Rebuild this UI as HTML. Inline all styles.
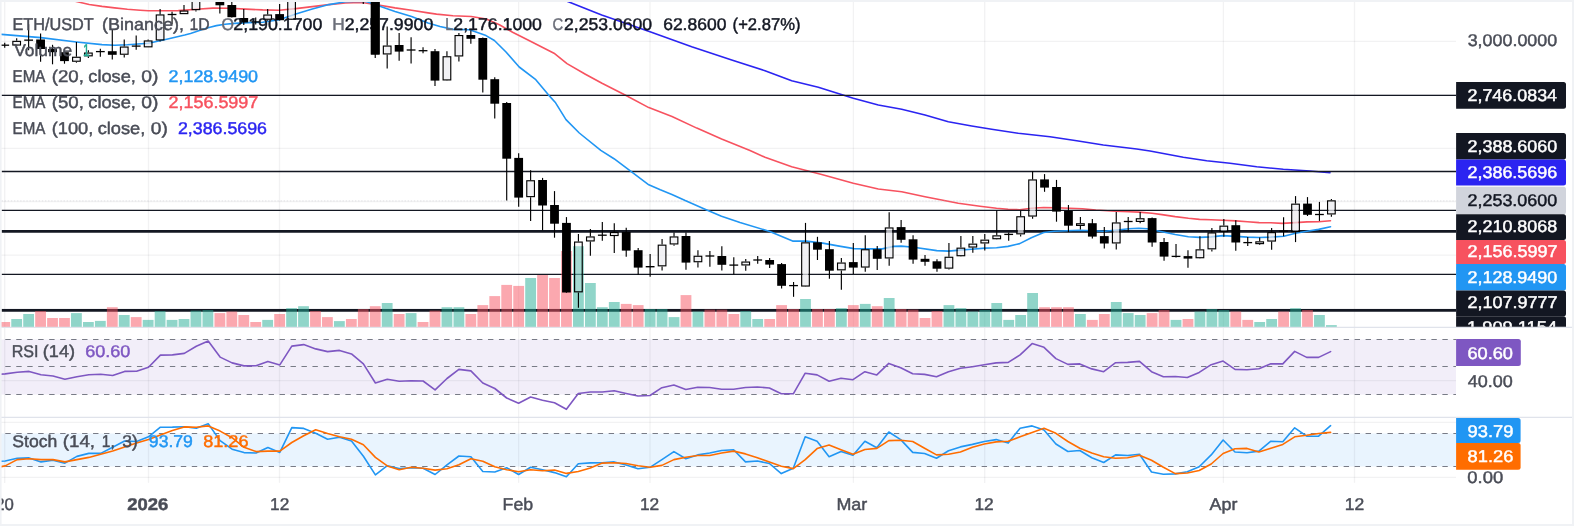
<!DOCTYPE html><html><head><meta charset="utf-8"><title>ETH/USDT</title>
<style>html,body{margin:0;padding:0;background:#fff}body{width:1574px;height:526px;overflow:hidden}svg{display:block}text{text-rendering:geometricPrecision;font-family:"Liberation Sans",sans-serif;font-size:17px;stroke-width:0.45px;stroke-linejoin:round}</style></head><body>
<svg width="1574" height="526" viewBox="0 0 1574 526" style="will-change:transform">
<rect x="0" y="0" width="1574" height="526" fill="#fff"/>
<rect x="0" y="339.5" width="1456.1" height="55" fill="#f2eef9"/>
<rect x="0" y="433.5" width="1456.1" height="33" fill="#e9f4fe"/>
<g stroke="#1e222d" stroke-opacity="0.06" stroke-width="1.3" fill="none">
<line x1="0" y1="41.4" x2="1456.1" y2="41.4"/>
<line x1="0" y1="94.8" x2="1456.1" y2="94.8"/>
<line x1="0" y1="148.3" x2="1456.1" y2="148.3"/>
<line x1="0" y1="201.5" x2="1456.1" y2="201.5"/>
<line x1="0" y1="255.2" x2="1456.1" y2="255.2"/>
<line x1="0" y1="308.6" x2="1456.1" y2="308.6"/>
<line x1="0" y1="422.3" x2="1456.1" y2="422.3"/>
<line x1="0" y1="477.4" x2="1456.1" y2="477.4"/>
</g>
<g stroke="#1e222d" stroke-opacity="0.06" stroke-width="1.3" fill="none">
<line x1="4.7" y1="0" x2="4.7" y2="482.5"/>
<line x1="148.5" y1="0" x2="148.5" y2="482.5"/>
<line x1="279.5" y1="0" x2="279.5" y2="482.5"/>
<line x1="518.6" y1="0" x2="518.6" y2="482.5"/>
<line x1="650.0" y1="0" x2="650.0" y2="482.5"/>
<line x1="853.4" y1="0" x2="853.4" y2="482.5"/>
<line x1="984.7" y1="0" x2="984.7" y2="482.5"/>
<line x1="1223.4" y1="0" x2="1223.4" y2="482.5"/>
<line x1="1354.5" y1="0" x2="1354.5" y2="482.5"/>
<line x1="0" y1="380.6" x2="1456.1" y2="380.6"/>
</g>
<g stroke="#e0e3eb" stroke-width="1.3"><line x1="0" y1="327.3" x2="1574" y2="327.3"/><line x1="0" y1="417.3" x2="1574" y2="417.3"/></g>
<polyline fill="none" stroke="#2b24f1" stroke-width="1.6" stroke-linejoin="round" stroke-linecap="round" points="564.0,0.0 568.3,1.7 601.7,15.0 650.0,31.7 691.7,46.7 731.7,60.0 765.0,70.7 791.7,80.7 818.3,87.3 853.3,98.3 878.3,105.0 901.7,109.3 925.0,115.0 948.3,121.7 971.7,126.0 991.7,129.3 1018.3,133.3 1050.0,136.7 1076.7,140.7 1103.3,145.0 1136.7,149.0 1150.0,151.0 1183.3,157.3 1206.7,160.7 1230.0,163.3 1256.7,166.7 1283.3,169.3 1310.0,171.0 1330.0,172.7"/>
<polyline fill="none" stroke="#f7525f" stroke-width="1.6" stroke-linejoin="round" stroke-linecap="round" points="68.0,0.0 75.2,1.3 89.2,4.5 102.0,6.4 114.6,7.9 127.4,9.2 140.1,10.2 148.4,10.8 165.6,10.8 178.3,10.6 196.5,9.3 213.0,8.1 229.6,8.3 246.2,9.1 262.7,9.9 279.2,10.3 295.8,8.6 312.3,6.6 328.9,4.6 345.4,3.0 362.0,2.5 378.5,5.0 395.0,7.9 411.6,10.3 428.0,12.9 436.5,14.1 453.0,15.7 471.3,16.5 486.2,19.0 499.4,24.8 512.6,32.3 527.5,39.7 554.0,53.2 567.0,63.6 585.4,74.2 602.0,83.3 625.1,95.0 648.8,107.6 672.0,116.5 696.8,128.1 721.6,138.9 750.0,150.4 765.0,157.3 791.7,166.7 821.7,174.5 853.3,183.3 878.3,189.0 901.7,191.7 925.0,196.7 958.3,203.3 980.0,206.3 996.5,208.3 1008.1,209.3 1019.7,209.7 1031.3,208.3 1043.7,207.5 1056.1,207.7 1069.3,208.3 1082.5,208.8 1095.8,210.0 1115.6,211.3 1128.9,211.8 1138.8,212.1 1152.0,213.3 1162.0,214.6 1175.2,216.6 1188.4,218.3 1199.5,219.4 1211.1,219.8 1222.7,220.3 1236.0,220.9 1247.5,221.8 1259.1,222.6 1270.7,222.7 1282.2,223.4 1295.5,222.6 1307.0,221.9 1318.6,221.8 1330.5,220.8"/>
<g stroke="#131722" fill="none">
<line x1="1.6" y1="95.4" x2="1456.1" y2="95.4" stroke-width="1.4"/>
<line x1="1.6" y1="171.5" x2="1456.1" y2="171.5" stroke-width="1.4"/>
<line x1="1.6" y1="210.4" x2="1456.1" y2="210.4" stroke-width="1.4"/>
<line x1="1.6" y1="231.4" x2="1456.1" y2="231.4" stroke-width="2.8"/>
<line x1="1.6" y1="274.4" x2="1456.1" y2="274.4" stroke-width="1.4"/>
<line x1="1.6" y1="310.3" x2="1456.1" y2="310.3" stroke-width="2.8"/>
</g>
<line x1="1.6" y1="200.8" x2="1456.1" y2="200.8" stroke="#b9bbc2" stroke-opacity="0.3" stroke-width="1.3" stroke-dasharray="1.3 1.8"/>
<polyline fill="none" stroke="#2196f3" stroke-width="1.6" stroke-linejoin="round" stroke-linecap="round" points="1.5,34.4 40.8,37.6 76.4,42.0 102.0,44.6 114.6,45.2 127.4,44.8 148.4,43.3 165.6,39.5 184.7,35.0 190.5,33.4 196.5,31.5 203.0,29.3 210.0,27.2 216.4,25.6 225.0,24.2 234.6,23.4 249.0,22.6 262.7,22.2 279.2,19.8 295.8,14.0 312.3,9.1 328.9,4.6 345.4,1.7 362.0,1.2 366.9,1.7 378.5,5.8 395.0,11.6 411.6,16.5 428.0,23.0 440.0,26.5 453.0,29.4 469.6,29.8 486.0,35.6 494.4,40.5 506.0,52.0 519.2,67.0 535.8,79.7 548.2,94.6 555.6,102.8 566.0,119.6 579.3,133.0 600.8,150.4 614.0,158.7 630.6,171.2 648.8,184.8 660.3,189.8 671.9,194.4 685.2,200.6 705.0,209.3 721.5,216.3 740.0,222.6 769.8,231.5 792.6,241.1 806.0,241.1 822.7,243.1 839.2,246.1 854.0,248.6 872.3,248.9 882.2,248.9 893.8,246.4 901.3,246.1 913.7,247.3 936.8,250.6 948.4,251.1 960.0,250.1 971.5,249.2 984.8,248.1 996.5,247.7 1008.0,246.4 1019.7,243.6 1031.3,237.8 1043.7,232.5 1054.4,231.2 1079.2,230.3 1092.5,230.8 1104.0,231.2 1117.3,230.0 1128.9,228.7 1138.8,228.2 1147.0,228.7 1162.0,231.7 1175.2,234.5 1188.4,236.7 1199.5,237.4 1211.1,236.9 1222.7,235.6 1236.0,236.4 1247.5,237.1 1259.1,237.5 1270.7,237.1 1283.9,236.3 1295.5,233.3 1307.0,231.3 1318.6,229.4 1330.5,226.7"/>
<g stroke="#787b86" stroke-width="1.2" stroke-dasharray="5.4 5.57" fill="none">
<line x1="5.3" y1="339.5" x2="1456.1" y2="339.5"/>
<line x1="5.3" y1="366.5" x2="1456.1" y2="366.5"/>
<line x1="5.3" y1="394.5" x2="1456.1" y2="394.5"/>
<line x1="5.3" y1="433.5" x2="1456.1" y2="433.5"/>
<line x1="5.3" y1="466.5" x2="1456.1" y2="466.5"/>
</g>
<rect x="-0.68" y="322.0" width="10.8" height="4.8" fill="rgba(247,82,95,0.5)"/>
<rect x="11.27" y="319.0" width="10.8" height="7.8" fill="rgba(34,171,148,0.5)"/>
<rect x="23.22" y="314.0" width="10.8" height="12.8" fill="rgba(34,171,148,0.5)"/>
<rect x="35.18" y="311.0" width="10.8" height="15.8" fill="rgba(247,82,95,0.5)"/>
<rect x="47.13" y="318.0" width="10.8" height="8.8" fill="rgba(247,82,95,0.5)"/>
<rect x="59.08" y="318.0" width="10.8" height="8.8" fill="rgba(247,82,95,0.5)"/>
<rect x="71.03" y="313.1" width="10.8" height="13.7" fill="rgba(34,171,148,0.5)"/>
<rect x="82.98" y="322.0" width="10.8" height="4.8" fill="rgba(34,171,148,0.5)"/>
<rect x="94.94" y="320.9" width="10.8" height="5.9" fill="rgba(34,171,148,0.5)"/>
<rect x="106.89" y="307.2" width="10.8" height="19.6" fill="rgba(247,82,95,0.5)"/>
<rect x="118.84" y="315.0" width="10.8" height="11.8" fill="rgba(34,171,148,0.5)"/>
<rect x="130.79" y="317.1" width="10.8" height="9.7" fill="rgba(247,82,95,0.5)"/>
<rect x="142.74" y="319.9" width="10.8" height="6.9" fill="rgba(34,171,148,0.5)"/>
<rect x="154.70" y="311.0" width="10.8" height="15.8" fill="rgba(34,171,148,0.5)"/>
<rect x="166.65" y="319.9" width="10.8" height="6.9" fill="rgba(34,171,148,0.5)"/>
<rect x="178.60" y="319.0" width="10.8" height="7.8" fill="rgba(34,171,148,0.5)"/>
<rect x="190.55" y="310.6" width="10.8" height="16.2" fill="rgba(34,171,148,0.5)"/>
<rect x="202.50" y="310.0" width="10.8" height="16.8" fill="rgba(34,171,148,0.5)"/>
<rect x="214.46" y="313.1" width="10.8" height="13.7" fill="rgba(247,82,95,0.5)"/>
<rect x="226.41" y="311.5" width="10.8" height="15.3" fill="rgba(247,82,95,0.5)"/>
<rect x="238.36" y="315.0" width="10.8" height="11.8" fill="rgba(247,82,95,0.5)"/>
<rect x="250.31" y="322.0" width="10.8" height="4.8" fill="rgba(247,82,95,0.5)"/>
<rect x="262.26" y="319.9" width="10.8" height="6.9" fill="rgba(34,171,148,0.5)"/>
<rect x="274.22" y="314.0" width="10.8" height="12.8" fill="rgba(247,82,95,0.5)"/>
<rect x="286.17" y="308.1" width="10.8" height="18.7" fill="rgba(34,171,148,0.5)"/>
<rect x="298.12" y="306.2" width="10.8" height="20.6" fill="rgba(34,171,148,0.5)"/>
<rect x="310.07" y="311.0" width="10.8" height="15.8" fill="rgba(247,82,95,0.5)"/>
<rect x="322.02" y="317.1" width="10.8" height="9.7" fill="rgba(247,82,95,0.5)"/>
<rect x="333.98" y="321.1" width="10.8" height="5.7" fill="rgba(34,171,148,0.5)"/>
<rect x="345.93" y="319.0" width="10.8" height="7.8" fill="rgba(247,82,95,0.5)"/>
<rect x="357.88" y="309.1" width="10.8" height="17.7" fill="rgba(247,82,95,0.5)"/>
<rect x="369.83" y="306.2" width="10.8" height="20.6" fill="rgba(247,82,95,0.5)"/>
<rect x="381.78" y="303.0" width="10.8" height="23.8" fill="rgba(34,171,148,0.5)"/>
<rect x="393.74" y="314.0" width="10.8" height="12.8" fill="rgba(247,82,95,0.5)"/>
<rect x="405.69" y="313.1" width="10.8" height="13.7" fill="rgba(34,171,148,0.5)"/>
<rect x="417.64" y="322.0" width="10.8" height="4.8" fill="rgba(247,82,95,0.5)"/>
<rect x="429.59" y="310.6" width="10.8" height="16.2" fill="rgba(247,82,95,0.5)"/>
<rect x="441.54" y="307.2" width="10.8" height="19.6" fill="rgba(34,171,148,0.5)"/>
<rect x="453.50" y="307.2" width="10.8" height="19.6" fill="rgba(34,171,148,0.5)"/>
<rect x="465.45" y="314.0" width="10.8" height="12.8" fill="rgba(247,82,95,0.5)"/>
<rect x="477.40" y="305.1" width="10.8" height="21.7" fill="rgba(247,82,95,0.5)"/>
<rect x="489.35" y="296.1" width="10.8" height="30.7" fill="rgba(247,82,95,0.5)"/>
<rect x="501.30" y="284.9" width="10.8" height="41.9" fill="rgba(247,82,95,0.5)"/>
<rect x="513.26" y="285.9" width="10.8" height="40.9" fill="rgba(247,82,95,0.5)"/>
<rect x="525.21" y="278.0" width="10.8" height="48.8" fill="rgba(34,171,148,0.5)"/>
<rect x="537.16" y="275.0" width="10.8" height="51.8" fill="rgba(247,82,95,0.5)"/>
<rect x="549.11" y="278.0" width="10.8" height="48.8" fill="rgba(247,82,95,0.5)"/>
<rect x="561.06" y="251.0" width="10.8" height="75.8" fill="rgba(247,82,95,0.5)"/>
<rect x="573.02" y="246.2" width="10.8" height="80.6" fill="rgba(34,171,148,0.5)"/>
<rect x="584.97" y="283.0" width="10.8" height="43.8" fill="rgba(34,171,148,0.5)"/>
<rect x="596.92" y="307.2" width="10.8" height="19.6" fill="rgba(34,171,148,0.5)"/>
<rect x="608.87" y="302.0" width="10.8" height="24.8" fill="rgba(34,171,148,0.5)"/>
<rect x="620.82" y="303.9" width="10.8" height="22.9" fill="rgba(247,82,95,0.5)"/>
<rect x="632.78" y="305.1" width="10.8" height="21.7" fill="rgba(247,82,95,0.5)"/>
<rect x="644.73" y="309.0" width="10.8" height="17.8" fill="rgba(34,171,148,0.5)"/>
<rect x="656.68" y="309.0" width="10.8" height="17.8" fill="rgba(34,171,148,0.5)"/>
<rect x="668.63" y="317.1" width="10.8" height="9.7" fill="rgba(34,171,148,0.5)"/>
<rect x="680.58" y="295.1" width="10.8" height="31.7" fill="rgba(247,82,95,0.5)"/>
<rect x="692.54" y="311.5" width="10.8" height="15.3" fill="rgba(34,171,148,0.5)"/>
<rect x="704.49" y="309.6" width="10.8" height="17.2" fill="rgba(247,82,95,0.5)"/>
<rect x="716.44" y="309.6" width="10.8" height="17.2" fill="rgba(247,82,95,0.5)"/>
<rect x="728.39" y="314.0" width="10.8" height="12.8" fill="rgba(247,82,95,0.5)"/>
<rect x="740.34" y="311.0" width="10.8" height="15.8" fill="rgba(34,171,148,0.5)"/>
<rect x="752.30" y="319.0" width="10.8" height="7.8" fill="rgba(34,171,148,0.5)"/>
<rect x="764.25" y="319.0" width="10.8" height="7.8" fill="rgba(247,82,95,0.5)"/>
<rect x="776.20" y="305.1" width="10.8" height="21.7" fill="rgba(247,82,95,0.5)"/>
<rect x="788.15" y="309.0" width="10.8" height="17.8" fill="rgba(247,82,95,0.5)"/>
<rect x="800.10" y="299.0" width="10.8" height="27.8" fill="rgba(34,171,148,0.5)"/>
<rect x="812.06" y="309.0" width="10.8" height="17.8" fill="rgba(247,82,95,0.5)"/>
<rect x="824.01" y="309.0" width="10.8" height="17.8" fill="rgba(247,82,95,0.5)"/>
<rect x="835.96" y="308.1" width="10.8" height="18.7" fill="rgba(34,171,148,0.5)"/>
<rect x="847.91" y="305.1" width="10.8" height="21.7" fill="rgba(247,82,95,0.5)"/>
<rect x="859.86" y="303.9" width="10.8" height="22.9" fill="rgba(34,171,148,0.5)"/>
<rect x="871.82" y="306.2" width="10.8" height="20.6" fill="rgba(247,82,95,0.5)"/>
<rect x="883.77" y="298.0" width="10.8" height="28.8" fill="rgba(34,171,148,0.5)"/>
<rect x="895.72" y="309.0" width="10.8" height="17.8" fill="rgba(247,82,95,0.5)"/>
<rect x="907.67" y="309.6" width="10.8" height="17.2" fill="rgba(247,82,95,0.5)"/>
<rect x="919.62" y="318.0" width="10.8" height="8.8" fill="rgba(247,82,95,0.5)"/>
<rect x="931.58" y="311.0" width="10.8" height="15.8" fill="rgba(247,82,95,0.5)"/>
<rect x="943.53" y="305.1" width="10.8" height="21.7" fill="rgba(34,171,148,0.5)"/>
<rect x="955.48" y="308.1" width="10.8" height="18.7" fill="rgba(34,171,148,0.5)"/>
<rect x="967.43" y="311.5" width="10.8" height="15.3" fill="rgba(34,171,148,0.5)"/>
<rect x="979.38" y="310.0" width="10.8" height="16.8" fill="rgba(34,171,148,0.5)"/>
<rect x="991.34" y="303.0" width="10.8" height="23.8" fill="rgba(34,171,148,0.5)"/>
<rect x="1003.29" y="319.9" width="10.8" height="6.9" fill="rgba(34,171,148,0.5)"/>
<rect x="1015.24" y="315.0" width="10.8" height="11.8" fill="rgba(34,171,148,0.5)"/>
<rect x="1027.19" y="293.0" width="10.8" height="33.8" fill="rgba(34,171,148,0.5)"/>
<rect x="1039.14" y="307.2" width="10.8" height="19.6" fill="rgba(247,82,95,0.5)"/>
<rect x="1051.10" y="307.2" width="10.8" height="19.6" fill="rgba(247,82,95,0.5)"/>
<rect x="1063.05" y="307.2" width="10.8" height="19.6" fill="rgba(247,82,95,0.5)"/>
<rect x="1075.00" y="314.0" width="10.8" height="12.8" fill="rgba(34,171,148,0.5)"/>
<rect x="1086.95" y="319.9" width="10.8" height="6.9" fill="rgba(247,82,95,0.5)"/>
<rect x="1098.90" y="314.0" width="10.8" height="12.8" fill="rgba(247,82,95,0.5)"/>
<rect x="1110.86" y="302.0" width="10.8" height="24.8" fill="rgba(34,171,148,0.5)"/>
<rect x="1122.81" y="313.1" width="10.8" height="13.7" fill="rgba(34,171,148,0.5)"/>
<rect x="1134.76" y="315.0" width="10.8" height="11.8" fill="rgba(34,171,148,0.5)"/>
<rect x="1146.71" y="313.1" width="10.8" height="13.7" fill="rgba(247,82,95,0.5)"/>
<rect x="1158.66" y="310.0" width="10.8" height="16.8" fill="rgba(247,82,95,0.5)"/>
<rect x="1170.62" y="319.9" width="10.8" height="6.9" fill="rgba(34,171,148,0.5)"/>
<rect x="1182.57" y="319.0" width="10.8" height="7.8" fill="rgba(247,82,95,0.5)"/>
<rect x="1194.52" y="311.5" width="10.8" height="15.3" fill="rgba(34,171,148,0.5)"/>
<rect x="1206.47" y="309.0" width="10.8" height="17.8" fill="rgba(34,171,148,0.5)"/>
<rect x="1218.42" y="310.0" width="10.8" height="16.8" fill="rgba(34,171,148,0.5)"/>
<rect x="1230.38" y="311.5" width="10.8" height="15.3" fill="rgba(247,82,95,0.5)"/>
<rect x="1242.33" y="319.9" width="10.8" height="6.9" fill="rgba(247,82,95,0.5)"/>
<rect x="1254.28" y="322.0" width="10.8" height="4.8" fill="rgba(34,171,148,0.5)"/>
<rect x="1266.23" y="319.0" width="10.8" height="7.8" fill="rgba(34,171,148,0.5)"/>
<rect x="1278.18" y="311.5" width="10.8" height="15.3" fill="rgba(247,82,95,0.5)"/>
<rect x="1290.14" y="308.1" width="10.8" height="18.7" fill="rgba(34,171,148,0.5)"/>
<rect x="1302.09" y="310.0" width="10.8" height="16.8" fill="rgba(247,82,95,0.5)"/>
<rect x="1314.04" y="315.0" width="10.8" height="11.8" fill="rgba(34,171,148,0.5)"/>
<rect x="1325.99" y="325.1" width="10.8" height="1.7" fill="rgba(34,171,148,0.5)"/>
<rect x="13.77" y="42.3" width="5.8" height="1.8" fill="#ebecf0" fill-opacity="0.72"/>
<rect x="73.53" y="58.2" width="5.8" height="2.1" fill="#ebecf0" fill-opacity="0.72"/>
<rect x="85.48" y="54.0" width="5.8" height="0.9" fill="#ebecf0" fill-opacity="0.72"/>
<rect x="121.34" y="48.0" width="5.8" height="5.3" fill="#ebecf0" fill-opacity="0.72"/>
<rect x="145.24" y="41.9" width="5.8" height="4.0" fill="#ebecf0" fill-opacity="0.72"/>
<rect x="157.20" y="15.9" width="5.8" height="23.1" fill="#ebecf0" fill-opacity="0.72"/>
<rect x="181.10" y="12.0" width="5.8" height="0.7" fill="#ebecf0" fill-opacity="0.72"/>
<rect x="193.05" y="-1.5" width="5.8" height="10.2" fill="#ebecf0" fill-opacity="0.72"/>
<rect x="264.76" y="16.0" width="5.8" height="2.3" fill="#ebecf0" fill-opacity="0.72"/>
<rect x="288.67" y="-6.5" width="5.8" height="24.8" fill="#ebecf0" fill-opacity="0.72"/>
<rect x="384.28" y="47.0" width="5.8" height="6.0" fill="#ebecf0" fill-opacity="0.72"/>
<rect x="444.04" y="57.7" width="5.8" height="21.3" fill="#ebecf0" fill-opacity="0.72"/>
<rect x="456.00" y="36.5" width="5.8" height="18.5" fill="#ebecf0" fill-opacity="0.72"/>
<rect x="527.71" y="181.7" width="5.8" height="14.0" fill="#ebecf0" fill-opacity="0.72"/>
<rect x="575.52" y="243.0" width="5.8" height="47.9" fill="#ebecf0" fill-opacity="0.25"/>
<rect x="587.47" y="237.9" width="5.8" height="2.1" fill="#ebecf0" fill-opacity="0.72"/>
<rect x="611.37" y="233.5" width="5.8" height="1.1" fill="#ebecf0" fill-opacity="0.72"/>
<rect x="659.18" y="246.1" width="5.8" height="18.8" fill="#ebecf0" fill-opacity="0.72"/>
<rect x="671.13" y="237.9" width="5.8" height="5.1" fill="#ebecf0" fill-opacity="0.72"/>
<rect x="695.04" y="257.2" width="5.8" height="3.6" fill="#ebecf0" fill-opacity="0.72"/>
<rect x="742.84" y="263.0" width="5.8" height="1.0" fill="#ebecf0" fill-opacity="0.72"/>
<rect x="802.60" y="243.8" width="5.8" height="41.3" fill="#ebecf0" fill-opacity="0.72"/>
<rect x="838.46" y="264.0" width="5.8" height="4.9" fill="#ebecf0" fill-opacity="0.72"/>
<rect x="862.36" y="250.7" width="5.8" height="15.4" fill="#ebecf0" fill-opacity="0.72"/>
<rect x="886.27" y="228.9" width="5.8" height="28.1" fill="#ebecf0" fill-opacity="0.72"/>
<rect x="946.03" y="258.2" width="5.8" height="9.0" fill="#ebecf0" fill-opacity="0.72"/>
<rect x="957.98" y="249.1" width="5.8" height="5.7" fill="#ebecf0" fill-opacity="0.72"/>
<rect x="969.93" y="245.1" width="5.8" height="1.0" fill="#ebecf0" fill-opacity="0.72"/>
<rect x="981.88" y="241.1" width="5.8" height="0.9" fill="#ebecf0" fill-opacity="0.72"/>
<rect x="993.84" y="236.8" width="5.8" height="1.0" fill="#ebecf0" fill-opacity="0.72"/>
<rect x="1017.74" y="217.7" width="5.8" height="15.2" fill="#ebecf0" fill-opacity="0.72"/>
<rect x="1029.69" y="180.9" width="5.8" height="34.2" fill="#ebecf0" fill-opacity="0.72"/>
<rect x="1077.50" y="224.7" width="5.8" height="0.1" fill="#ebecf0" fill-opacity="0.72"/>
<rect x="1113.36" y="223.9" width="5.8" height="18.1" fill="#ebecf0" fill-opacity="0.72"/>
<rect x="1137.26" y="219.7" width="5.8" height="0.8" fill="#ebecf0" fill-opacity="0.72"/>
<rect x="1197.02" y="250.8" width="5.8" height="6.0" fill="#ebecf0" fill-opacity="0.72"/>
<rect x="1208.97" y="233.9" width="5.8" height="14.0" fill="#ebecf0" fill-opacity="0.72"/>
<rect x="1220.92" y="227.1" width="5.8" height="3.5" fill="#ebecf0" fill-opacity="0.72"/>
<rect x="1256.78" y="242.8" width="5.8" height="0.1" fill="#ebecf0" fill-opacity="0.72"/>
<rect x="1268.73" y="233.6" width="5.8" height="6.5" fill="#ebecf0" fill-opacity="0.72"/>
<rect x="1292.64" y="205.1" width="5.8" height="25.6" fill="#ebecf0" fill-opacity="0.72"/>
<rect x="1328.49" y="201.8" width="5.8" height="11.2" fill="#ebecf0" fill-opacity="0.72"/>
<g stroke="#000" stroke-width="1.15" fill="none">
<line x1="4.72" y1="42.7" x2="4.72" y2="47.8"/>
<line x1="0.32" y1="45.2" x2="9.12" y2="45.2" stroke-width="1.3"/>
<line x1="16.67" y1="38.2" x2="16.67" y2="40.8"/>
<line x1="16.67" y1="45.6" x2="16.67" y2="46.0"/>
<rect x="12.84" y="41.37" width="7.65" height="3.65"/>
<line x1="28.62" y1="24.2" x2="28.62" y2="50.3"/>
<rect x="24.22" y="39.5" width="8.8" height="1.3" fill="#000" stroke="none"/>
<line x1="40.58" y1="33.4" x2="40.58" y2="61.8"/>
<rect x="36.18" y="39.5" width="8.8" height="9.5" fill="#000" stroke="none"/>
<line x1="52.53" y1="44.8" x2="52.53" y2="64.3"/>
<rect x="48.13" y="49.0" width="8.8" height="3.2" fill="#000" stroke="none"/>
<line x1="64.48" y1="51.5" x2="64.48" y2="63.7"/>
<rect x="60.08" y="52.2" width="8.8" height="8.9" fill="#000" stroke="none"/>
<line x1="76.43" y1="42.0" x2="76.43" y2="56.7"/>
<line x1="76.43" y1="61.8" x2="76.43" y2="62.7"/>
<rect x="72.60" y="57.27" width="7.65" height="3.95"/>
<line x1="88.38" y1="50.3" x2="88.38" y2="52.5"/>
<line x1="88.38" y1="56.4" x2="88.38" y2="58.0"/>
<rect x="84.55" y="53.07" width="7.65" height="2.75"/>
<line x1="100.34" y1="48.8" x2="100.34" y2="56.7"/>
<line x1="95.94" y1="51.6" x2="104.74" y2="51.6" stroke-width="1.3"/>
<line x1="112.29" y1="29.9" x2="112.29" y2="59.6"/>
<rect x="107.89" y="51.2" width="8.8" height="3.6" fill="#000" stroke="none"/>
<line x1="124.24" y1="39.5" x2="124.24" y2="46.5"/>
<line x1="124.24" y1="54.8" x2="124.24" y2="57.6"/>
<rect x="120.41" y="47.07" width="7.65" height="7.15"/>
<line x1="136.19" y1="35.4" x2="136.19" y2="49.7"/>
<line x1="131.79" y1="46.1" x2="140.59" y2="46.1" stroke-width="1.3"/>
<line x1="148.14" y1="39.5" x2="148.14" y2="40.4"/>
<line x1="148.14" y1="47.4" x2="148.14" y2="47.6"/>
<rect x="144.31" y="40.97" width="7.65" height="5.85"/>
<line x1="160.10" y1="9.0" x2="160.10" y2="14.4"/>
<line x1="160.10" y1="40.5" x2="160.10" y2="41.4"/>
<rect x="156.27" y="14.97" width="7.65" height="24.95"/>
<line x1="172.05" y1="11.7" x2="172.05" y2="24.6"/>
<line x1="167.65" y1="14.5" x2="176.45" y2="14.5" stroke-width="1.3"/>
<line x1="184.00" y1="5.0" x2="184.00" y2="10.5"/>
<line x1="184.00" y1="14.2" x2="184.00" y2="14.3"/>
<rect x="180.17" y="11.07" width="7.65" height="2.55"/>
<line x1="195.95" y1="-5.0" x2="195.95" y2="-3.0"/>
<line x1="195.95" y1="10.2" x2="195.95" y2="11.5"/>
<rect x="192.12" y="-2.43" width="7.65" height="12.05"/>
<line x1="207.90" y1="-20.0" x2="207.90" y2="1.8"/>
<rect x="203.50" y="-15.0" width="8.8" height="10.0" fill="#000" stroke="none"/>
<line x1="219.86" y1="-5.0" x2="219.86" y2="13.5"/>
<rect x="215.46" y="-3.0" width="8.8" height="8.3" fill="#000" stroke="none"/>
<line x1="231.81" y1="1.0" x2="231.81" y2="17.4"/>
<rect x="227.41" y="5.0" width="8.8" height="12.2" fill="#000" stroke="none"/>
<line x1="243.76" y1="9.1" x2="243.76" y2="25.0"/>
<rect x="239.36" y="18.0" width="8.8" height="4.5" fill="#000" stroke="none"/>
<line x1="255.71" y1="17.5" x2="255.71" y2="24.5"/>
<line x1="251.31" y1="21.9" x2="260.11" y2="21.9" stroke-width="1.3"/>
<line x1="267.66" y1="9.1" x2="267.66" y2="14.5"/>
<line x1="267.66" y1="19.8" x2="267.66" y2="20.7"/>
<rect x="263.83" y="15.07" width="7.65" height="4.15"/>
<line x1="279.62" y1="4.0" x2="279.62" y2="20.4"/>
<rect x="275.22" y="14.1" width="8.8" height="6.1" fill="#000" stroke="none"/>
<line x1="291.57" y1="-10.0" x2="291.57" y2="-8.0"/>
<line x1="291.57" y1="19.8" x2="291.57" y2="20.0"/>
<rect x="287.74" y="-7.43" width="7.65" height="26.65"/>
<line x1="363.28" y1="-20.0" x2="363.28" y2="4.1"/>
<rect x="358.88" y="-15.0" width="8.8" height="10.0" fill="#000" stroke="none"/>
<line x1="375.23" y1="-10.0" x2="375.23" y2="57.9"/>
<rect x="370.83" y="-8.0" width="8.8" height="62.5" fill="#000" stroke="none"/>
<line x1="387.18" y1="26.4" x2="387.18" y2="45.5"/>
<line x1="387.18" y1="54.5" x2="387.18" y2="68.6"/>
<rect x="383.35" y="46.07" width="7.65" height="7.85"/>
<line x1="399.14" y1="33.0" x2="399.14" y2="60.8"/>
<rect x="394.74" y="45.0" width="8.8" height="6.6" fill="#000" stroke="none"/>
<line x1="411.09" y1="37.2" x2="411.09" y2="63.6"/>
<line x1="406.69" y1="50.0" x2="415.49" y2="50.0" stroke-width="1.3"/>
<line x1="423.04" y1="47.3" x2="423.04" y2="53.2"/>
<line x1="418.64" y1="50.7" x2="427.44" y2="50.7" stroke-width="1.3"/>
<line x1="434.99" y1="49.1" x2="434.99" y2="85.9"/>
<rect x="430.59" y="51.2" width="8.8" height="29.4" fill="#000" stroke="none"/>
<line x1="446.94" y1="51.2" x2="446.94" y2="56.2"/>
<line x1="446.94" y1="80.5" x2="446.94" y2="80.7"/>
<rect x="443.11" y="56.77" width="7.65" height="23.15"/>
<line x1="458.90" y1="33.0" x2="458.90" y2="35.0"/>
<line x1="458.90" y1="56.5" x2="458.90" y2="61.5"/>
<rect x="455.07" y="35.57" width="7.65" height="20.35"/>
<line x1="470.85" y1="30.6" x2="470.85" y2="43.7"/>
<rect x="466.45" y="35.0" width="8.8" height="3.8" fill="#000" stroke="none"/>
<line x1="482.80" y1="37.5" x2="482.80" y2="92.6"/>
<rect x="478.40" y="38.0" width="8.8" height="41.7" fill="#000" stroke="none"/>
<line x1="494.75" y1="77.2" x2="494.75" y2="118.5"/>
<rect x="490.35" y="79.2" width="8.8" height="24.5" fill="#000" stroke="none"/>
<line x1="506.70" y1="102.0" x2="506.70" y2="200.5"/>
<rect x="502.30" y="103.0" width="8.8" height="55.7" fill="#000" stroke="none"/>
<line x1="518.66" y1="153.2" x2="518.66" y2="206.7"/>
<rect x="514.26" y="157.9" width="8.8" height="39.7" fill="#000" stroke="none"/>
<line x1="530.61" y1="170.3" x2="530.61" y2="180.2"/>
<line x1="530.61" y1="197.2" x2="530.61" y2="220.9"/>
<rect x="526.78" y="180.77" width="7.65" height="15.85"/>
<line x1="542.56" y1="177.9" x2="542.56" y2="230.3"/>
<rect x="538.16" y="180.0" width="8.8" height="25.5" fill="#000" stroke="none"/>
<line x1="554.51" y1="191.1" x2="554.51" y2="237.7"/>
<rect x="550.11" y="205.0" width="8.8" height="18.7" fill="#000" stroke="none"/>
<line x1="566.46" y1="217.1" x2="566.46" y2="292.7"/>
<rect x="562.06" y="222.9" width="8.8" height="69.6" fill="#000" stroke="none"/>
<line x1="578.42" y1="234.1" x2="578.42" y2="241.5"/>
<line x1="578.42" y1="292.4" x2="578.42" y2="307.8"/>
<rect x="574.59" y="242.07" width="7.65" height="49.75"/>
<line x1="590.37" y1="229.1" x2="590.37" y2="236.4"/>
<line x1="590.37" y1="241.5" x2="590.37" y2="255.7"/>
<rect x="586.54" y="236.97" width="7.65" height="3.95"/>
<line x1="602.32" y1="222.0" x2="602.32" y2="240.8"/>
<line x1="597.92" y1="235.2" x2="606.72" y2="235.2" stroke-width="1.3"/>
<line x1="614.27" y1="223.2" x2="614.27" y2="232.0"/>
<line x1="614.27" y1="236.1" x2="614.27" y2="252.9"/>
<rect x="610.44" y="232.57" width="7.65" height="2.95"/>
<line x1="626.22" y1="227.8" x2="626.22" y2="256.8"/>
<rect x="621.82" y="232.0" width="8.8" height="18.6" fill="#000" stroke="none"/>
<line x1="638.18" y1="248.1" x2="638.18" y2="274.7"/>
<rect x="633.78" y="250.2" width="8.8" height="17.4" fill="#000" stroke="none"/>
<line x1="650.13" y1="254.0" x2="650.13" y2="276.7"/>
<rect x="645.73" y="266.0" width="8.8" height="1.4" fill="#000" stroke="none"/>
<line x1="662.08" y1="239.1" x2="662.08" y2="244.6"/>
<line x1="662.08" y1="266.4" x2="662.08" y2="270.5"/>
<rect x="658.25" y="245.17" width="7.65" height="20.65"/>
<line x1="674.03" y1="232.4" x2="674.03" y2="236.4"/>
<line x1="674.03" y1="244.5" x2="674.03" y2="245.7"/>
<rect x="670.20" y="236.97" width="7.65" height="6.95"/>
<line x1="685.98" y1="232.4" x2="685.98" y2="269.7"/>
<rect x="681.58" y="236.0" width="8.8" height="26.6" fill="#000" stroke="none"/>
<line x1="697.94" y1="250.2" x2="697.94" y2="255.7"/>
<line x1="697.94" y1="262.3" x2="697.94" y2="267.6"/>
<rect x="694.11" y="256.27" width="7.65" height="5.45"/>
<line x1="709.89" y1="251.0" x2="709.89" y2="266.7"/>
<line x1="705.49" y1="256.0" x2="714.29" y2="256.0" stroke-width="1.3"/>
<line x1="721.84" y1="246.2" x2="721.84" y2="270.5"/>
<rect x="717.44" y="256.0" width="8.8" height="8.8" fill="#000" stroke="none"/>
<line x1="733.79" y1="257.3" x2="733.79" y2="274.4"/>
<line x1="729.39" y1="265.1" x2="738.19" y2="265.1" stroke-width="1.3"/>
<line x1="745.74" y1="258.9" x2="745.74" y2="261.5"/>
<line x1="745.74" y1="265.5" x2="745.74" y2="270.7"/>
<rect x="741.91" y="262.07" width="7.65" height="2.85"/>
<line x1="757.70" y1="256.0" x2="757.70" y2="263.8"/>
<line x1="753.30" y1="260.0" x2="762.10" y2="260.0" stroke-width="1.3"/>
<line x1="769.65" y1="258.0" x2="769.65" y2="267.9"/>
<rect x="765.25" y="260.0" width="8.8" height="4.6" fill="#000" stroke="none"/>
<line x1="781.60" y1="263.0" x2="781.60" y2="288.6"/>
<rect x="777.20" y="264.1" width="8.8" height="21.7" fill="#000" stroke="none"/>
<line x1="793.55" y1="282.0" x2="793.55" y2="296.8"/>
<line x1="789.15" y1="285.6" x2="797.95" y2="285.6" stroke-width="1.3"/>
<line x1="805.50" y1="222.9" x2="805.50" y2="242.3"/>
<line x1="805.50" y1="286.6" x2="805.50" y2="286.8"/>
<rect x="801.67" y="242.87" width="7.65" height="43.15"/>
<line x1="817.46" y1="236.8" x2="817.46" y2="260.0"/>
<rect x="813.06" y="242.3" width="8.8" height="7.4" fill="#000" stroke="none"/>
<line x1="829.41" y1="241.0" x2="829.41" y2="278.7"/>
<rect x="825.01" y="249.2" width="8.8" height="21.5" fill="#000" stroke="none"/>
<line x1="841.36" y1="258.0" x2="841.36" y2="262.5"/>
<line x1="841.36" y1="270.4" x2="841.36" y2="289.8"/>
<rect x="837.53" y="263.07" width="7.65" height="6.75"/>
<line x1="853.31" y1="243.1" x2="853.31" y2="274.0"/>
<rect x="848.91" y="262.1" width="8.8" height="5.5" fill="#000" stroke="none"/>
<line x1="865.26" y1="235.2" x2="865.26" y2="249.2"/>
<line x1="865.26" y1="267.6" x2="865.26" y2="271.7"/>
<rect x="861.43" y="249.77" width="7.65" height="17.25"/>
<line x1="877.22" y1="245.9" x2="877.22" y2="269.9"/>
<rect x="872.82" y="249.2" width="8.8" height="9.6" fill="#000" stroke="none"/>
<line x1="889.17" y1="212.3" x2="889.17" y2="227.4"/>
<line x1="889.17" y1="258.5" x2="889.17" y2="265.8"/>
<rect x="885.34" y="227.97" width="7.65" height="29.95"/>
<line x1="901.12" y1="220.0" x2="901.12" y2="242.8"/>
<rect x="896.72" y="227.1" width="8.8" height="12.7" fill="#000" stroke="none"/>
<line x1="913.07" y1="235.2" x2="913.07" y2="263.8"/>
<rect x="908.67" y="239.3" width="8.8" height="20.3" fill="#000" stroke="none"/>
<line x1="925.02" y1="255.0" x2="925.02" y2="265.8"/>
<rect x="920.62" y="258.8" width="8.8" height="3.0" fill="#000" stroke="none"/>
<line x1="936.98" y1="259.3" x2="936.98" y2="271.7"/>
<rect x="932.58" y="261.3" width="8.8" height="7.4" fill="#000" stroke="none"/>
<line x1="948.93" y1="243.1" x2="948.93" y2="256.7"/>
<line x1="948.93" y1="268.7" x2="948.93" y2="269.6"/>
<rect x="945.10" y="257.27" width="7.65" height="10.85"/>
<line x1="960.88" y1="236.0" x2="960.88" y2="247.6"/>
<line x1="960.88" y1="256.3" x2="960.88" y2="256.5"/>
<rect x="957.05" y="248.17" width="7.65" height="7.55"/>
<line x1="972.83" y1="236.0" x2="972.83" y2="243.6"/>
<line x1="972.83" y1="247.6" x2="972.83" y2="252.7"/>
<rect x="969.00" y="244.17" width="7.65" height="2.85"/>
<line x1="984.78" y1="234.0" x2="984.78" y2="239.6"/>
<line x1="984.78" y1="243.5" x2="984.78" y2="250.5"/>
<rect x="980.95" y="240.17" width="7.65" height="2.75"/>
<line x1="996.74" y1="210.3" x2="996.74" y2="235.3"/>
<line x1="996.74" y1="239.3" x2="996.74" y2="239.5"/>
<rect x="992.91" y="235.87" width="7.65" height="2.85"/>
<line x1="1008.69" y1="232.4" x2="1008.69" y2="240.7"/>
<line x1="1004.29" y1="234.4" x2="1013.09" y2="234.4" stroke-width="1.3"/>
<line x1="1020.64" y1="210.5" x2="1020.64" y2="216.2"/>
<line x1="1020.64" y1="234.4" x2="1020.64" y2="236.6"/>
<rect x="1016.81" y="216.77" width="7.65" height="17.05"/>
<line x1="1032.59" y1="171.3" x2="1032.59" y2="179.4"/>
<line x1="1032.59" y1="216.6" x2="1032.59" y2="218.7"/>
<rect x="1028.76" y="179.97" width="7.65" height="36.05"/>
<line x1="1044.54" y1="174.1" x2="1044.54" y2="191.8"/>
<rect x="1040.14" y="179.4" width="8.8" height="8.2" fill="#000" stroke="none"/>
<line x1="1056.50" y1="179.9" x2="1056.50" y2="221.7"/>
<rect x="1052.10" y="187.0" width="8.8" height="24.6" fill="#000" stroke="none"/>
<line x1="1068.45" y1="205.0" x2="1068.45" y2="232.0"/>
<rect x="1064.05" y="210.8" width="8.8" height="14.9" fill="#000" stroke="none"/>
<line x1="1080.40" y1="217.1" x2="1080.40" y2="223.2"/>
<line x1="1080.40" y1="226.0" x2="1080.40" y2="229.5"/>
<rect x="1076.57" y="223.77" width="7.65" height="1.65"/>
<line x1="1092.35" y1="219.0" x2="1092.35" y2="238.6"/>
<rect x="1087.95" y="223.2" width="8.8" height="13.4" fill="#000" stroke="none"/>
<line x1="1104.30" y1="227.0" x2="1104.30" y2="248.5"/>
<rect x="1099.90" y="236.1" width="8.8" height="7.4" fill="#000" stroke="none"/>
<line x1="1116.26" y1="212.1" x2="1116.26" y2="222.4"/>
<line x1="1116.26" y1="243.5" x2="1116.26" y2="249.6"/>
<rect x="1112.43" y="222.97" width="7.65" height="19.95"/>
<line x1="1128.21" y1="217.1" x2="1128.21" y2="232.0"/>
<line x1="1123.81" y1="221.5" x2="1132.61" y2="221.5" stroke-width="1.3"/>
<line x1="1140.16" y1="212.1" x2="1140.16" y2="218.2"/>
<line x1="1140.16" y1="222.0" x2="1140.16" y2="223.2"/>
<rect x="1136.33" y="218.77" width="7.65" height="2.65"/>
<line x1="1152.11" y1="217.5" x2="1152.11" y2="246.8"/>
<rect x="1147.71" y="218.1" width="8.8" height="24.4" fill="#000" stroke="none"/>
<line x1="1164.06" y1="238.0" x2="1164.06" y2="260.7"/>
<rect x="1159.66" y="242.0" width="8.8" height="14.6" fill="#000" stroke="none"/>
<line x1="1176.02" y1="244.0" x2="1176.02" y2="257.4"/>
<line x1="1171.62" y1="256.4" x2="1180.42" y2="256.4" stroke-width="1.3"/>
<line x1="1187.97" y1="250.3" x2="1187.97" y2="267.7"/>
<rect x="1183.57" y="256.1" width="8.8" height="2.5" fill="#000" stroke="none"/>
<line x1="1199.92" y1="236.2" x2="1199.92" y2="249.3"/>
<line x1="1199.92" y1="258.3" x2="1199.92" y2="258.5"/>
<rect x="1196.09" y="249.87" width="7.65" height="7.85"/>
<line x1="1211.87" y1="227.9" x2="1211.87" y2="232.4"/>
<line x1="1211.87" y1="249.4" x2="1211.87" y2="251.5"/>
<rect x="1208.04" y="232.97" width="7.65" height="15.85"/>
<line x1="1223.82" y1="219.0" x2="1223.82" y2="225.6"/>
<line x1="1223.82" y1="232.1" x2="1223.82" y2="236.7"/>
<rect x="1219.99" y="226.17" width="7.65" height="5.35"/>
<line x1="1235.78" y1="220.3" x2="1235.78" y2="250.8"/>
<rect x="1231.38" y="225.2" width="8.8" height="17.3" fill="#000" stroke="none"/>
<line x1="1247.73" y1="237.1" x2="1247.73" y2="245.9"/>
<line x1="1243.33" y1="242.6" x2="1252.13" y2="242.6" stroke-width="1.3"/>
<line x1="1259.68" y1="237.4" x2="1259.68" y2="241.3"/>
<line x1="1259.68" y1="244.2" x2="1259.68" y2="245.0"/>
<rect x="1255.85" y="241.87" width="7.65" height="1.75"/>
<line x1="1271.63" y1="228.0" x2="1271.63" y2="232.1"/>
<line x1="1271.63" y1="241.6" x2="1271.63" y2="249.8"/>
<rect x="1267.80" y="232.67" width="7.65" height="8.35"/>
<line x1="1283.58" y1="217.3" x2="1283.58" y2="236.3"/>
<line x1="1279.18" y1="231.2" x2="1287.98" y2="231.2" stroke-width="1.3"/>
<line x1="1295.54" y1="196.1" x2="1295.54" y2="203.6"/>
<line x1="1295.54" y1="232.2" x2="1295.54" y2="242.1"/>
<rect x="1291.71" y="204.17" width="7.65" height="27.45"/>
<line x1="1307.49" y1="197.1" x2="1307.49" y2="216.0"/>
<rect x="1303.09" y="203.6" width="8.8" height="11.2" fill="#000" stroke="none"/>
<line x1="1319.44" y1="201.9" x2="1319.44" y2="220.9"/>
<line x1="1315.04" y1="214.5" x2="1323.84" y2="214.5" stroke-width="1.3"/>
<line x1="1331.39" y1="199.1" x2="1331.39" y2="200.3"/>
<line x1="1331.39" y1="214.5" x2="1331.39" y2="216.8"/>
<rect x="1327.56" y="200.87" width="7.65" height="13.05"/>
</g>
<polyline fill="none" stroke="#7e57c2" stroke-width="1.6" stroke-linejoin="round" stroke-linecap="round" points="-6.7,374.8 5.2,373.9 17.2,372.2 29.1,371.4 41.0,374.7 53.0,376.0 64.9,379.2 76.9,376.7 88.8,374.7 100.7,374.2 112.7,375.5 124.6,371.4 136.6,371.2 148.5,367.2 160.4,355.1 172.4,354.9 184.3,353.4 196.3,346.3 208.2,341.1 220.1,357.1 232.1,362.9 244.0,365.9 256.0,365.7 267.9,361.4 279.8,364.9 291.8,346.1 303.7,344.6 315.7,348.9 327.6,351.6 339.5,350.4 351.5,353.9 363.4,363.9 375.4,383.0 387.3,379.2 399.2,381.2 411.2,380.7 423.1,381.0 435.1,389.8 447.0,378.5 458.9,369.4 470.9,370.9 482.8,383.0 494.8,388.5 506.7,398.0 518.6,403.3 530.6,397.0 542.5,400.3 554.5,402.8 566.4,409.3 578.3,393.5 590.3,392.0 602.2,392.0 614.2,390.8 626.1,393.5 638.0,396.0 650.0,395.5 661.9,387.7 673.9,385.0 685.8,389.5 697.7,387.2 709.7,387.5 721.6,389.3 733.6,389.3 745.5,387.5 757.4,387.0 769.4,388.0 781.3,393.8 793.3,393.8 805.2,373.2 817.1,374.9 829.1,381.2 841.0,378.2 853.0,379.7 864.9,371.7 876.8,374.9 888.8,363.4 900.7,367.7 912.7,373.7 924.6,374.4 936.5,376.7 948.5,371.7 960.4,368.2 972.4,366.7 984.3,364.7 996.2,362.9 1008.2,362.4 1020.1,354.9 1032.1,343.6 1044.0,347.3 1055.9,358.6 1067.9,364.4 1079.8,363.9 1091.8,368.9 1103.7,371.7 1115.6,362.7 1127.6,362.4 1139.5,361.4 1151.5,371.7 1163.4,376.7 1175.3,376.5 1187.3,377.5 1199.2,372.4 1211.2,364.7 1223.1,361.1 1235.0,369.4 1247.0,369.7 1258.9,368.7 1270.9,363.7 1282.8,363.9 1294.7,351.4 1306.7,357.4 1318.6,357.4 1330.6,351.6"/>
<polyline fill="none" stroke="#2196f3" stroke-width="1.6" stroke-linejoin="round" stroke-linecap="round" points="-6.7,461.6 5.2,461.0 17.2,458.3 29.1,457.9 41.0,461.9 53.0,460.2 64.9,463.1 76.9,456.4 88.8,453.4 100.7,453.4 112.7,447.3 124.6,441.0 136.6,441.5 148.5,436.8 160.4,427.2 172.4,427.1 184.3,426.7 196.3,428.2 208.2,423.8 220.1,440.6 232.1,449.2 244.0,452.6 256.0,453.0 267.9,447.6 279.8,452.4 291.8,427.6 303.7,428.4 315.7,433.3 327.6,439.3 339.5,437.2 351.5,441.0 363.4,456.2 375.4,474.9 387.3,465.7 399.2,468.6 411.2,467.7 423.1,468.2 435.1,474.5 447.0,464.8 458.9,456.0 470.9,456.8 482.8,471.5 494.8,472.0 506.7,467.7 518.6,474.5 530.6,467.3 542.5,469.7 554.5,472.6 566.4,476.8 578.3,463.8 590.3,462.9 602.2,462.7 614.2,461.9 626.1,465.0 638.0,468.8 650.0,467.3 661.9,459.6 673.9,451.6 685.8,458.7 697.7,454.9 709.7,453.0 721.6,450.5 733.6,449.7 745.5,461.9 757.4,461.0 769.4,463.5 781.3,473.6 793.3,468.2 805.2,436.8 817.1,441.2 829.1,456.8 841.0,451.5 853.0,455.3 864.9,441.2 876.8,447.8 888.8,432.0 900.7,439.6 912.7,452.4 924.6,453.5 936.5,458.3 948.5,450.7 960.4,446.9 972.4,444.4 984.3,441.5 996.2,439.6 1008.2,443.1 1020.1,428.2 1032.1,425.9 1044.0,430.1 1055.9,444.0 1067.9,451.5 1079.8,450.5 1091.8,457.7 1103.7,462.5 1115.6,454.9 1127.6,455.5 1139.5,454.3 1151.5,472.0 1163.4,474.3 1175.3,473.9 1187.3,471.7 1199.2,466.7 1211.2,454.9 1223.1,440.0 1235.0,452.0 1247.0,452.8 1258.9,451.1 1270.9,441.2 1282.8,441.7 1294.7,427.8 1306.7,436.2 1318.6,436.2 1330.6,425.7"/>
<polyline fill="none" stroke="#ff6d00" stroke-width="1.6" stroke-linejoin="round" stroke-linecap="round" points="-6.7,468.2 5.2,465.9 17.2,459.6 29.1,458.7 41.0,459.6 53.0,459.6 64.9,461.9 76.9,459.6 88.8,457.4 100.7,454.3 112.7,451.1 124.6,446.9 136.6,443.1 148.5,439.6 160.4,434.9 172.4,430.5 184.3,426.9 196.3,427.2 208.2,425.9 220.1,431.1 232.1,437.7 244.0,447.3 256.0,451.6 267.9,451.1 279.8,451.1 291.8,442.5 303.7,435.8 315.7,429.7 327.6,433.5 339.5,436.8 351.5,439.3 363.4,444.8 375.4,457.4 387.3,465.9 399.2,469.7 411.2,467.3 423.1,468.2 435.1,470.1 447.0,468.8 458.9,464.8 470.9,458.7 482.8,461.2 494.8,466.7 506.7,469.7 518.6,471.7 530.6,469.7 542.5,470.7 554.5,470.1 566.4,473.4 578.3,471.5 590.3,468.0 602.2,463.1 614.2,462.7 626.1,463.5 638.0,465.7 650.0,467.3 661.9,465.4 673.9,459.6 685.8,457.2 697.7,455.5 709.7,455.5 721.6,453.0 733.6,451.1 745.5,453.9 757.4,457.7 769.4,462.1 781.3,466.3 793.3,468.6 805.2,459.6 817.1,448.6 829.1,445.0 841.0,449.7 853.0,454.3 864.9,449.5 876.8,448.4 888.8,440.6 900.7,440.2 912.7,441.5 924.6,448.2 936.5,454.9 948.5,454.3 960.4,452.0 972.4,447.3 984.3,444.0 996.2,441.9 1008.2,441.2 1020.1,436.8 1032.1,432.4 1044.0,428.2 1055.9,433.3 1067.9,441.5 1079.8,448.2 1091.8,453.0 1103.7,456.8 1115.6,458.3 1127.6,457.7 1139.5,455.3 1151.5,460.3 1163.4,467.3 1175.3,473.6 1187.3,473.0 1199.2,470.5 1211.2,464.0 1223.1,453.5 1235.0,448.8 1247.0,448.4 1258.9,452.0 1270.9,448.2 1282.8,444.4 1294.7,436.8 1306.7,435.3 1318.6,433.5 1330.6,432.4"/>
<g>
<text x="12.46" y="29.8" fill="#4a4d57" stroke="#4a4d57" textLength="81.31" lengthAdjust="spacingAndGlyphs">ETH/USDT</text>
<text x="102.14" y="29.8" fill="#4a4d57" stroke="#4a4d57" textLength="81.87" lengthAdjust="spacingAndGlyphs">(Binance),</text>
<text x="189.59" y="29.8" fill="#4a4d57" stroke="#4a4d57" textLength="20.13" lengthAdjust="spacingAndGlyphs">1D</text>
<text x="221.45" y="29.8" fill="#6a6d78" stroke="#6a6d78" textLength="12.43" lengthAdjust="spacingAndGlyphs">O</text>
<text x="233.36" y="29.8" fill="#131722" stroke="#131722" textLength="89.02" lengthAdjust="spacingAndGlyphs">2,190.1700</text>
<text x="332.37" y="29.8" fill="#6a6d78" stroke="#6a6d78" textLength="12.53" lengthAdjust="spacingAndGlyphs">H</text>
<text x="344.67" y="29.8" fill="#131722" stroke="#131722" textLength="88.61" lengthAdjust="spacingAndGlyphs">2,257.9900</text>
<text x="445.32" y="29.8" fill="#6a6d78" stroke="#6a6d78" textLength="7.84" lengthAdjust="spacingAndGlyphs">L</text>
<text x="453.37" y="29.8" fill="#131722" stroke="#131722" textLength="88.61" lengthAdjust="spacingAndGlyphs">2,176.1000</text>
<text x="552.60" y="29.8" fill="#6a6d78" stroke="#6a6d78" textLength="10.70" lengthAdjust="spacingAndGlyphs">C</text>
<text x="563.97" y="29.8" fill="#131722" stroke="#131722" textLength="88.11" lengthAdjust="spacingAndGlyphs">2,253.0600</text>
<text x="663.18" y="29.8" fill="#131722" stroke="#131722" textLength="63.20" lengthAdjust="spacingAndGlyphs">62.8600</text>
<text x="732.62" y="29.8" fill="#131722" stroke="#131722" textLength="67.81" lengthAdjust="spacingAndGlyphs">(+2.87%)</text>
<text x="14.20" y="56.2" fill="#4a4d57" stroke="#4a4d57" textLength="57.87" lengthAdjust="spacingAndGlyphs">Volume</text>
<text x="82.97" y="56.2" fill="#22ab94" stroke="#22ab94" textLength="6.56" lengthAdjust="spacingAndGlyphs">1</text>
<text x="12.54" y="81.7" fill="#4a4d57" stroke="#4a4d57" textLength="32.80" lengthAdjust="spacingAndGlyphs">EMA</text>
<text x="51.70" y="81.7" fill="#4a4d57" stroke="#4a4d57" textLength="32.17" lengthAdjust="spacingAndGlyphs">(20,</text>
<text x="88.25" y="81.7" fill="#4a4d57" stroke="#4a4d57" textLength="47.69" lengthAdjust="spacingAndGlyphs">close,</text>
<text x="141.32" y="81.7" fill="#4a4d57" stroke="#4a4d57" textLength="17.17" lengthAdjust="spacingAndGlyphs">0)</text>
<text x="168.56" y="81.7" fill="#2196f3" stroke="#2196f3" textLength="89.53" lengthAdjust="spacingAndGlyphs">2,128.9490</text>
<text x="12.54" y="107.8" fill="#4a4d57" stroke="#4a4d57" textLength="32.80" lengthAdjust="spacingAndGlyphs">EMA</text>
<text x="51.70" y="107.8" fill="#4a4d57" stroke="#4a4d57" textLength="32.17" lengthAdjust="spacingAndGlyphs">(50,</text>
<text x="88.25" y="107.8" fill="#4a4d57" stroke="#4a4d57" textLength="47.69" lengthAdjust="spacingAndGlyphs">close,</text>
<text x="141.32" y="107.8" fill="#4a4d57" stroke="#4a4d57" textLength="17.17" lengthAdjust="spacingAndGlyphs">0)</text>
<text x="168.56" y="107.8" fill="#f7525f" stroke="#f7525f" textLength="89.75" lengthAdjust="spacingAndGlyphs">2,156.5997</text>
<text x="12.54" y="133.6" fill="#4a4d57" stroke="#4a4d57" textLength="32.80" lengthAdjust="spacingAndGlyphs">EMA</text>
<text x="51.73" y="133.6" fill="#4a4d57" stroke="#4a4d57" textLength="41.50" lengthAdjust="spacingAndGlyphs">(100,</text>
<text x="97.65" y="133.6" fill="#4a4d57" stroke="#4a4d57" textLength="47.69" lengthAdjust="spacingAndGlyphs">close,</text>
<text x="150.72" y="133.6" fill="#4a4d57" stroke="#4a4d57" textLength="17.06" lengthAdjust="spacingAndGlyphs">0)</text>
<text x="177.96" y="133.6" fill="#2b24f1" stroke="#2b24f1" textLength="89.02" lengthAdjust="spacingAndGlyphs">2,386.5696</text>
<text x="11.77" y="356.6" fill="#4a4d57" stroke="#4a4d57" textLength="26.77" lengthAdjust="spacingAndGlyphs">RSI</text>
<text x="42.84" y="356.6" fill="#4a4d57" stroke="#4a4d57" textLength="32.19" lengthAdjust="spacingAndGlyphs">(14)</text>
<text x="85.15" y="356.6" fill="#7e57c2" stroke="#7e57c2" textLength="45.25" lengthAdjust="spacingAndGlyphs">60.60</text>
<text x="12.28" y="446.7" fill="#4a4d57" stroke="#4a4d57" textLength="45.02" lengthAdjust="spacingAndGlyphs">Stoch</text>
<text x="62.69" y="446.7" fill="#4a4d57" stroke="#4a4d57" textLength="32.39" lengthAdjust="spacingAndGlyphs">(14,</text>
<text x="101.80" y="446.7" fill="#4a4d57" stroke="#4a4d57" textLength="13.00" lengthAdjust="spacingAndGlyphs">1,</text>
<text x="122.28" y="446.7" fill="#4a4d57" stroke="#4a4d57" textLength="15.50" lengthAdjust="spacingAndGlyphs">3)</text>
<text x="148.88" y="446.7" fill="#2196f3" stroke="#2196f3" textLength="44.00" lengthAdjust="spacingAndGlyphs">93.79</text>
<text x="203.15" y="446.7" fill="#ff6d00" stroke="#ff6d00" textLength="45.34" lengthAdjust="spacingAndGlyphs">81.26</text>
</g>
<rect x="370.83" y="0" width="8.8" height="54.5" fill="#000"/>
<rect x="1456.1" y="0" width="117.9" height="526" fill="#fff"/>
<g stroke="#e0e3eb" stroke-width="1.3"><line x1="1456.1" y1="327.3" x2="1574" y2="327.3"/><line x1="1456.1" y1="417.3" x2="1574" y2="417.3"/></g>
<rect x="0" y="483" width="1574" height="43" fill="#fff"/>
<g stroke="#1e222d" stroke-opacity="0.06" stroke-width="1.3">
<line x1="4.7" y1="483" x2="4.7" y2="482.6"/>
<line x1="148.5" y1="483" x2="148.5" y2="482.6"/>
<line x1="279.5" y1="483" x2="279.5" y2="482.6"/>
<line x1="518.6" y1="483" x2="518.6" y2="482.6"/>
<line x1="650.0" y1="483" x2="650.0" y2="482.6"/>
<line x1="853.4" y1="483" x2="853.4" y2="482.6"/>
<line x1="984.7" y1="483" x2="984.7" y2="482.6"/>
<line x1="1223.4" y1="483" x2="1223.4" y2="482.6"/>
<line x1="1354.5" y1="483" x2="1354.5" y2="482.6"/>
</g>
<g style="filter:opacity(1)">
<text x="1467.67" y="45.9" fill="#4a4d57" stroke="#4a4d57" textLength="89.52" lengthAdjust="spacingAndGlyphs">3,000.0000</text>
<path d="M1456.1 81.9 H1563.5 a2.5 2.5 0 0 1 2.5 2.5 V106.3 a2.5 2.5 0 0 1 -2.5 2.5 H1456.1 Z" fill="#131722"/>
<text x="1467.46" y="100.9" fill="#fff" stroke="#fff" textLength="89.62" lengthAdjust="spacingAndGlyphs" stroke-width="0.70">2,746.0834</text>
<path d="M1456.1 133.0 H1563.5 a2.5 2.5 0 0 1 2.5 2.5 V157.1 a2.5 2.5 0 0 1 -2.5 2.5 H1456.1 Z" fill="#131722"/>
<text x="1467.46" y="151.6" fill="#fff" stroke="#fff" textLength="89.84" lengthAdjust="spacingAndGlyphs" stroke-width="0.70">2,388.6060</text>
<path d="M1456.1 159.6 H1563.5 a2.5 2.5 0 0 1 2.5 2.5 V183.0 a2.5 2.5 0 0 1 -2.5 2.5 H1456.1 Z" fill="#2b24f1"/>
<text x="1467.46" y="177.7" fill="#fff" stroke="#fff" textLength="89.84" lengthAdjust="spacingAndGlyphs" stroke-width="0.70">2,386.5696</text>
<path d="M1456.1 186.8 H1563.5 a2.5 2.5 0 0 1 2.5 2.5 V211.7 a2.5 2.5 0 0 1 -2.5 2.5 H1456.1 Z" fill="#d1d4dc"/>
<text x="1467.46" y="205.8" fill="#131722" stroke="#131722" textLength="89.84" lengthAdjust="spacingAndGlyphs" stroke-width="0.70">2,253.0600</text>
<path d="M1456.1 214.2 H1563.5 a2.5 2.5 0 0 1 2.5 2.5 V237.4 a2.5 2.5 0 0 1 -2.5 2.5 H1456.1 Z" fill="#131722"/>
<text x="1467.46" y="232.2" fill="#fff" stroke="#fff" textLength="89.84" lengthAdjust="spacingAndGlyphs" stroke-width="0.70">2,210.8068</text>
<path d="M1456.1 239.9 H1563.5 a2.5 2.5 0 0 1 2.5 2.5 V261.6 a2.5 2.5 0 0 1 -2.5 2.5 H1456.1 Z" fill="#f7525f"/>
<text x="1467.45" y="257.0" fill="#fff" stroke="#fff" textLength="90.05" lengthAdjust="spacingAndGlyphs" stroke-width="0.70">2,156.5997</text>
<path d="M1456.1 264.1 H1563.5 a2.5 2.5 0 0 1 2.5 2.5 V288.1 a2.5 2.5 0 0 1 -2.5 2.5 H1456.1 Z" fill="#2196f3"/>
<text x="1467.46" y="282.7" fill="#fff" stroke="#fff" textLength="89.84" lengthAdjust="spacingAndGlyphs" stroke-width="0.70">2,128.9490</text>
<path d="M1456.1 290.6 H1563.5 a2.5 2.5 0 0 1 2.5 2.5 V313.8 a2.5 2.5 0 0 1 -2.5 2.5 H1456.1 Z" fill="#131722"/>
<text x="1467.45" y="307.5" fill="#fff" stroke="#fff" textLength="90.05" lengthAdjust="spacingAndGlyphs" stroke-width="0.70">2,107.9777</text>
<clipPath id="c1"><rect x="1450" y="316" width="124" height="10.8"/></clipPath><g clip-path="url(#c1)">
<path d="M1456.1 316.3 H1563.5 a2.5 2.5 0 0 1 2.5 2.5 V339.5 a2.5 2.5 0 0 1 -2.5 2.5 H1456.1 Z" fill="#131722"/>
<text x="1467.01" y="333.3" fill="#fff" stroke="#fff" textLength="90.08" lengthAdjust="spacingAndGlyphs" stroke-width="0.70">1,909.1154</text>
</g>
<path d="M1456.1 339.0 H1518.3 a2.5 2.5 0 0 1 2.5 2.5 V363.4 a2.5 2.5 0 0 1 -2.5 2.5 H1456.1 Z" fill="#7e57c2"/>
<text x="1467.44" y="359.1" fill="#fff" stroke="#fff" textLength="45.56" lengthAdjust="spacingAndGlyphs" stroke-width="0.70">60.60</text>
<text x="1467.68" y="386.7" fill="#4a4d57" stroke="#4a4d57" textLength="45.01" lengthAdjust="spacingAndGlyphs">40.00</text>
<path d="M1456.1 418.1 H1518.1 a2.5 2.5 0 0 1 2.5 2.5 V440.4 a2.5 2.5 0 0 1 -2.5 2.5 H1456.1 Z" fill="#2196f3"/>
<text x="1467.55" y="437.2" fill="#fff" stroke="#fff" textLength="45.87" lengthAdjust="spacingAndGlyphs" stroke-width="0.70">93.79</text>
<path d="M1456.1 442.9 H1518.1 a2.5 2.5 0 0 1 2.5 2.5 V467.3 a2.5 2.5 0 0 1 -2.5 2.5 H1456.1 Z" fill="#ff6d00"/>
<text x="1467.55" y="461.8" fill="#fff" stroke="#fff" textLength="45.76" lengthAdjust="spacingAndGlyphs" stroke-width="0.70">81.26</text>
<text x="1467.35" y="482.5" fill="#4a4d57" stroke="#4a4d57" textLength="35.86" lengthAdjust="spacingAndGlyphs">0.00</text>
<text x="-4.74" y="510.4" fill="#4a4d57" stroke="#4a4d57" textLength="18.63" lengthAdjust="spacingAndGlyphs">20</text>
<text x="127.31" y="510.4" fill="#4a4d57" stroke="#4a4d57" textLength="41.04" lengthAdjust="spacingAndGlyphs" font-weight="bold" stroke-width="0.15">2026</text>
<text x="270.13" y="510.4" fill="#4a4d57" stroke="#4a4d57" textLength="19.18" lengthAdjust="spacingAndGlyphs">12</text>
<text x="502.64" y="510.4" fill="#4a4d57" stroke="#4a4d57" textLength="30.54" lengthAdjust="spacingAndGlyphs">Feb</text>
<text x="639.98" y="510.4" fill="#4a4d57" stroke="#4a4d57" textLength="19.30" lengthAdjust="spacingAndGlyphs">12</text>
<text x="836.43" y="510.4" fill="#4a4d57" stroke="#4a4d57" textLength="30.84" lengthAdjust="spacingAndGlyphs">Mar</text>
<text x="974.48" y="510.4" fill="#4a4d57" stroke="#4a4d57" textLength="19.30" lengthAdjust="spacingAndGlyphs">12</text>
<text x="1209.50" y="510.4" fill="#4a4d57" stroke="#4a4d57" textLength="27.88" lengthAdjust="spacingAndGlyphs">Apr</text>
<text x="1344.76" y="510.4" fill="#4a4d57" stroke="#4a4d57" textLength="19.52" lengthAdjust="spacingAndGlyphs">12</text>
</g>
<rect x="0" y="0" width="1574" height="2" fill="#f0f2f5"/><rect x="0" y="524" width="1574" height="2" fill="#f0f2f5"/><rect x="0" y="0" width="1.6" height="526" fill="#f0f2f5"/><rect x="1572" y="0" width="2" height="526" fill="#f0f2f5"/>
</svg></body></html>
